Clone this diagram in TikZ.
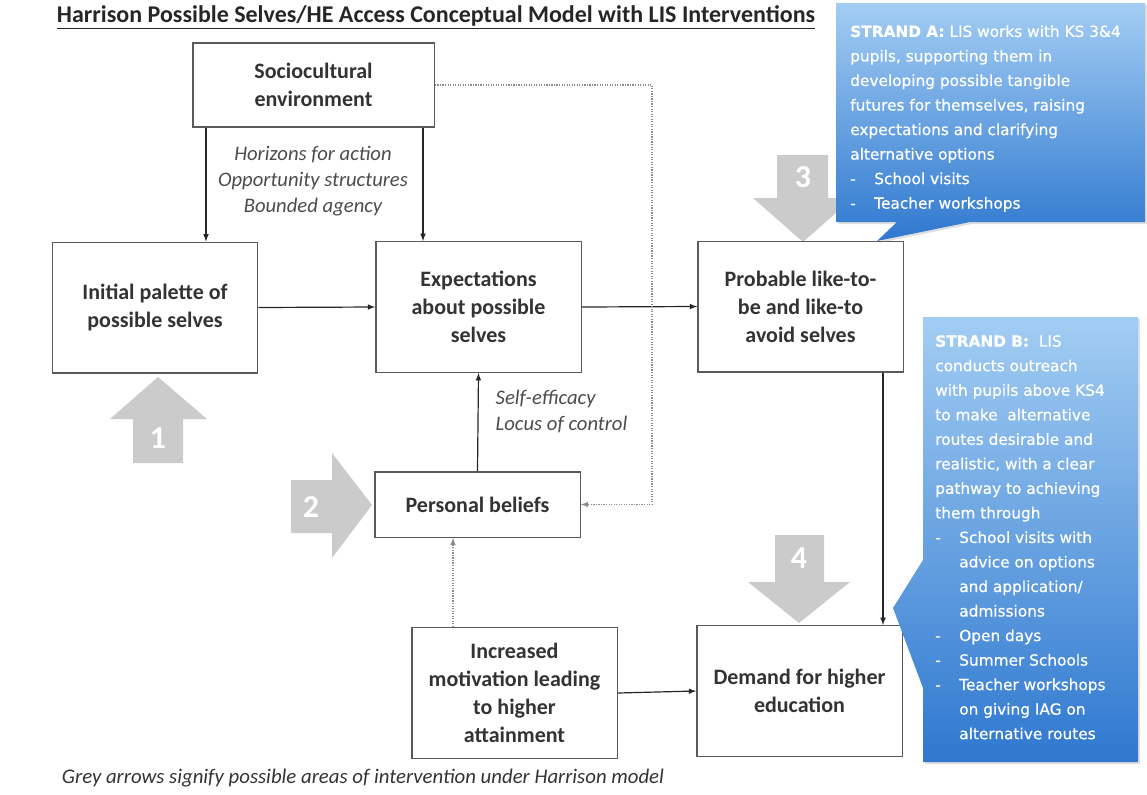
\documentclass[tikz,border=0pt]{standalone}
\usepackage{fontspec}
\setmainfont{Carlito}
\newfontfamily\calloutfont{DejaVu Sans}[FakeBold=0.6]
\usetikzlibrary{arrows,shadows}

\definecolor{boxline}{HTML}{5A5A5A}
\definecolor{boxtext}{HTML}{333333}
\definecolor{greyarrow}{HTML}{CBCBCB}
\definecolor{strandtop}{HTML}{A3CDF3}
\definecolor{strandbot}{HTML}{2F78CF}

\newcommand{\dashitem}[1]{\makebox[18pt][l]{-}#1}
\newcommand{\dashcont}{\hspace*{18pt}}

\tikzset{
  stage/.style={draw=boxline, line width=1pt, fill=white, align=center, text=boxtext,
    font=\fontsize{16.5}{21}\selectfont\bfseries, minimum width=154pt, minimum height=98pt, inner sep=2pt},
  link/.style={-latex, line width=0.9pt, draw=black!85},
  dotlink/.style={-latex, line width=0.9pt, draw=black!45, densely dotted},
  factor/.style={align=center, text=black!70, font=\fontsize{15.5}{19.5}\selectfont\itshape},
  greyarr/.style={fill=greyarrow, draw=none},
  stepnum/.style={text=white, font=\fontsize{24}{24}\selectfont\bfseries},
  strand/.style={top color=strandtop, bottom color=strandbot, draw=none,
    drop shadow={opacity=0.25, shadow xshift=1.5pt, shadow yshift=-1.5pt}},
  strandtext/.style={anchor=north west, inner sep=0pt, align=left, text=white,
    font=\calloutfont\fontsize{11.5}{18.4}\selectfont},
}

\begin{document}
\begin{tikzpicture}[x=0.75pt,y=0.75pt,yscale=-1,xscale=1]
\useasboundingbox (0,0) rectangle (1147,794);

%Grey arrows: intervention areas
\fill[greyarr] (158,377) -- (207,419) -- (183,419) -- (183,463) -- (133,463) -- (133,419) -- (110,419) -- cycle ;
\fill[greyarr] (372,505) -- (332,453) -- (332,480) -- (291,480) -- (291,533) -- (332,533) -- (332,558) -- cycle ;
\fill[greyarr] (803,242) -- (853,198) -- (828,198) -- (828,155) -- (777,155) -- (777,198) -- (753,198) -- cycle ;
\fill[greyarr] (799,623) -- (850,582) -- (824,582) -- (824,535) -- (775,535) -- (775,582) -- (748,582) -- cycle ;
\node[stepnum] (one) at (158,438) {1};
\node[stepnum] (two) at (311,507) {2};
\node[stepnum] (three) at (803,177) {3};
\node[stepnum] (four) at (799,558) {4};

%Flowchart: Process
\node[stage, minimum width=181pt, minimum height=63pt] (socio) at (313.5,85) {Sociocultural\\environment};
\node[stage] (init) at (155,307.5) {Initial palette of\\possible selves};
\node[stage] (expect) at (478.5,307) {Expectations\\about possible\\selves};
\node[stage] (prob) at (800.5,306.5) {Probable like-to-\\be and like-to\\avoid selves};
\node[stage, minimum height=49pt] (belief) at (477.5,504.5) {Personal beliefs};
\node[stage] (motiv) at (514.5,693) {Increased\\motivation leading\\to higher\\attainment};
\node[stage] (demand) at (799.5,691) {Demand for higher\\education};

%Connector positions
\coordinate (xsa) at (206,0);
\coordinate (xsb) at (423,0);
\coordinate (xdot) at (652,0);
\coordinate (xmb) at (453,0);
\coordinate (xpd) at (883,0);

%Straight Lines
\draw[link] (socio.south -| xsa) -- (init.north -| xsa);
\draw[link] (socio.south -| xsb) -- (expect.north -| xsb);
\draw[link] (init.east) -- (expect.west);
\draw[link] (expect.east) -- (prob.west);
\draw[link] (belief.north) -- (expect.south);
\draw[link] (motiv.east) -- (demand.west);
\draw[link] (prob.south -| xpd) -- (demand.north -| xpd);
%Dotted Lines
\draw[dotlink] (socio.east) -- (socio.east -| xdot) -- (belief.east -| xdot) -- (belief.east);
\draw[dotlink] (motiv.north -| xmb) -- (belief.south -| xmb);

% Text Node
\node[factor] (horizons) at (313,181) {Horizons for action\\Opportunity structures\\Bounded agency};
\node[factor, align=left, anchor=west] (efficacy) at (491,412) {Self-efficacy\\Locus of control};
\node[text=black!85, font=\fontsize{18}{18}\selectfont\bfseries] (title) at (436,17)
  {\underline{Harrison Possible Selves/HE Access Conceptual Model with LIS Interventions}};
\node[text=black!80, font=\fontsize{15.6}{15.6}\selectfont\itshape] (footer) at (363,778)
  {Grey arrows signify possible areas of intervention under Harrison model};

%Callout: Strand A
\path[strand] (836,3) -- (1145,3) -- (1145,222) -- (970,222) -- (877,241) -- (897,222) -- (836,222) -- cycle ;
\node[strandtext] (stranda) at (850,25) {{\bfseries STRAND A:} LIS works with KS 3\&4\\
pupils, supporting them in\\
developing possible tangible\\
futures for themselves, raising\\
expectations and clarifying\\
alternative options\\
\dashitem{School visits}\\
\dashitem{Teacher workshops}};

%Callout: Strand B
\path[strand] (923,317) -- (1138,317) -- (1138,762) -- (923,762) -- (923,688) -- (893,608) -- (923,560) -- cycle ;
\node[strandtext] (strandb) at (935,335) {{\bfseries STRAND B:}\ \ LIS\\
conducts outreach\\
with pupils above KS4\\
to make\ \ alternative\\
routes desirable and\\
realistic, with a clear\\
pathway to achieving\\
them through\\
\dashitem{School visits with}\\
\dashcont advice on options\\
\dashcont and application/\\
\dashcont admissions\\
\dashitem{Open days}\\
\dashitem{Summer Schools}\\
\dashitem{Teacher workshops}\\
\dashcont on giving IAG on\\
\dashcont alternative routes};

\end{tikzpicture}
\end{document}
